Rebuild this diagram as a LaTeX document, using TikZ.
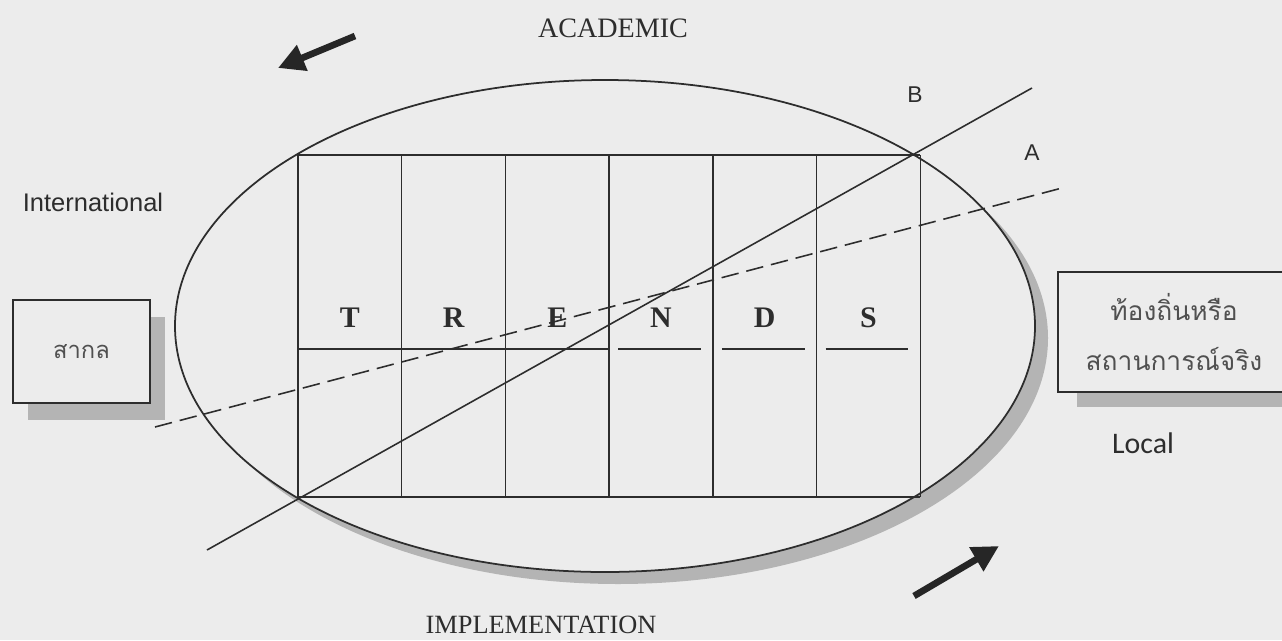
\documentclass[tikz,border=0pt]{standalone}
\usepackage{fontspec}
\setmainfont{Liberation Serif}
\setsansfont{Liberation Sans}
\newfontfamily\thaifont[Script=Thai]{Loma}
\newfontfamily\localfont{Carlito}
\usepackage{tikz}
\usetikzlibrary{arrows.meta, positioning, shadows}
\definecolor{paper}{RGB}{236,236,236}
\definecolor{ink}{RGB}{45,45,45}
\definecolor{shadowgray}{RGB}{180,180,180}
\definecolor{thaigray}{RGB}{80,80,80}
\tikzset{
  line/.style={line width=0.9pt, color=ink},
  gridline/.style={line width=0.8pt, color=ink},
  letter/.style={font=\fontsize{17}{17}\selectfont\bfseries, text=ink, inner sep=0pt},
  caption/.style={font=\fontsize{16}{16}\selectfont, text=ink, inner sep=0pt},
  side/.style={font=\sffamily\fontsize{14.5}{14.5}\selectfont, text=ink, inner sep=0pt},
  tag/.style={font=\sffamily\fontsize{13}{13}\selectfont, text=ink, inner sep=0pt},
  placebox/.style={rectangle, draw=ink, fill=paper, line width=0.9pt, align=center,
    font=\thaifont\fontsize{15}{28}\selectfont, text=thaigray},
  bigarrow/.style={-{Triangle[length=15pt, width=15pt]}, line width=3.8pt, color=black!85}
}

\begin{document}
\begin{tikzpicture}[x=0.02cm, y=-0.02cm]
  \clip (0,0) rectangle (1282,640);
  \fill[paper] (0,0) rectangle (1282,640);

  % ellipse with its shadow
  \fill[shadowgray] (618,338) ellipse [x radius=430, y radius=246];
  \filldraw[fill=paper, draw=ink, line width=1pt] (605,326) ellipse [x radius=430, y radius=246];

  % the TRENDS grid
  \draw[gridline] (298,155) -- (920,155);
  \draw[gridline] (298,497) -- (920,497);
  \foreach \i in {0,...,6}
    \draw[gridline] ({298+103.7*\i},155) -- ({298+103.7*\i},497);
  \draw[gridline] (298,349) -- (610,349);
  \foreach \i in {4,5,6}
    \draw[gridline] ({298+103.7*(\i-1)+9},349) -- ({298+103.7*\i-12},349);
  \foreach \l [count=\i] in {T,R,E,N,D,S}
    \node[letter] (l\i) at ({298+103.7*(\i-0.5)},318) {\l};

  % lines A and B
  \coordinate (b0) at (207,550);
  \coordinate (b1) at (1032,88);
  \coordinate (a0) at (155,427);
  \coordinate (a1) at (1062,188);
  \draw[line] (b0) -- (b1);
  \draw[line, dash pattern=on 10pt off 4.5pt] (a0) -- (a1);
  \node[tag] (labB) at (915,95) {B};
  \node[tag] (labA) at (1032,153) {A};

  % side boxes
  \node[placebox, minimum width=2.74cm, minimum height=2.06cm,
    font=\thaifont\fontsize{13.5}{28}\selectfont,
    drop shadow={shadow xshift=0.3cm, shadow yshift=-0.34cm, fill=shadowgray, opacity=1}]
    (sakol) at (81.5,351.5) {สากล};
  \node[placebox, minimum width=4.64cm, minimum height=2.4cm,
    drop shadow={shadow xshift=0.38cm, shadow yshift=-0.3cm, fill=shadowgray, opacity=1}]
    (thongthin) at (1174,332) {ท้องถิ่นหรือ\\สถานการณ์จริง};

  % captions
  \node[caption] (academic) at (613,28) {ACADEMIC};
  \node[caption, font=\fontsize{15}{15}\selectfont] (impl) at (541,625) {IMPLEMENTATION};
  \node[side] (intl) at (93,202) {International};
  \node[side, font=\localfont\fontsize{17}{17}\selectfont] (local) at (1143,443) {Local};

  % the two arrows
  \coordinate (up0) at (355,36);
  \coordinate (up1) at (278,68);
  \coordinate (dn0) at (914,596);
  \coordinate (dn1) at (999,546);
  \draw[bigarrow] (up0) -- (up1);
  \draw[bigarrow] (dn0) -- (dn1);
\end{tikzpicture}
\end{document}
